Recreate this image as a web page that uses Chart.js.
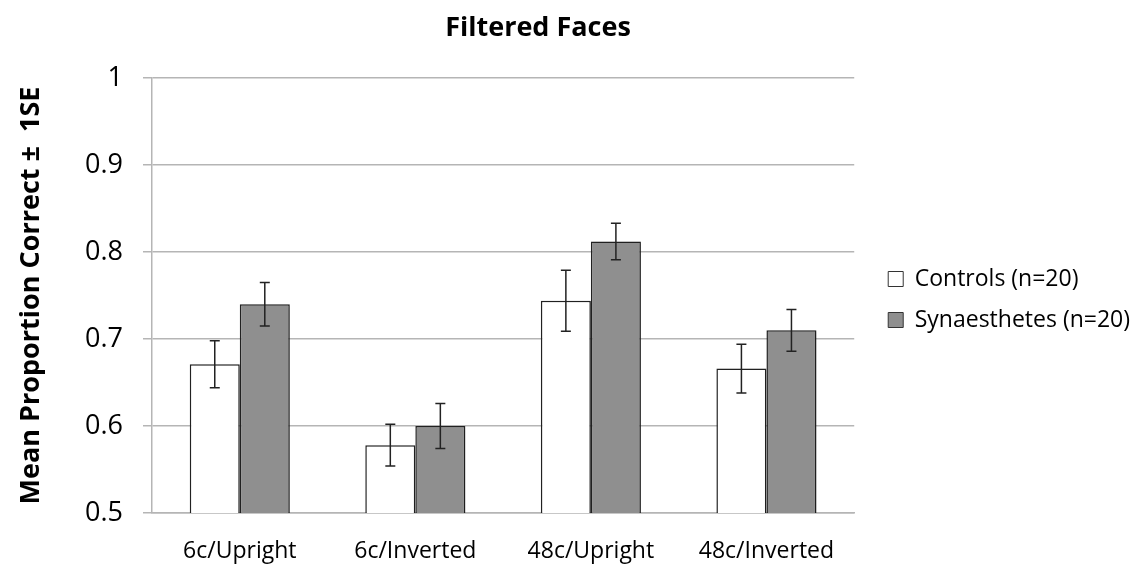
<!DOCTYPE html>
<html lang="en">
<head>
<meta charset="UTF-8">
<title>Filtered Faces</title>
<script src="https://cdn.jsdelivr.net/npm/chart.js"></script>
<style>
  html, body { margin: 0; padding: 0; background: #fff; }
  .wrap { width: 1136px; height: 566px; position: relative; }
</style>
</head>
<body>
<div class="wrap"><canvas id="facesChart"></canvas></div>
<script>
  const categories = ['6c/Upright', '6c/Inverted', '48c/Upright', '48c/Inverted'];
  const controls = [0.671, 0.578, 0.744, 0.666];
  const controlsSE = [0.027, 0.024, 0.035, 0.028];
  const synaesthetes = [0.740, 0.600, 0.812, 0.710];
  const synaesthetesSE = [0.025, 0.026, 0.021, 0.024];
  const seriesNames = ['Controls (n=20)', 'Synaesthetes (n=20)'];
  const yTicks = [0.5, 0.6, 0.7, 0.8, 0.9, 1];

  const FONT = "'Open Sans', 'DejaVu Sans', sans-serif";

  // soft bar shadow + error bars (+/- 1 SE) drawn through the y scale
  const errorBars = {
    id: 'errorBars',
    beforeDatasetsDraw(chart) {
      const ctx = chart.ctx;
      ctx.save();
      ctx.shadowColor = 'rgba(0,0,0,0.22)';
      ctx.shadowBlur = 3;
      ctx.shadowOffsetX = 1.5;
      ctx.shadowOffsetY = 1;
    },
    afterDatasetsDraw(chart) {
      const ctx = chart.ctx, y = chart.scales.y;
      ctx.restore();
      [controlsSE, synaesthetesSE].forEach((se, di) => {
        const meta = chart.getDatasetMeta(di);
        const vals = chart.data.datasets[di].data;
        meta.data.forEach((bar, i) => {
          const top = y.getPixelForValue(vals[i] + se[i]);
          const bot = y.getPixelForValue(vals[i] - se[i]);
          ctx.save();
          ctx.strokeStyle = '#222';
          ctx.lineWidth = 1.5;
          ctx.beginPath();
          ctx.moveTo(bar.x, top); ctx.lineTo(bar.x, bot);
          ctx.moveTo(bar.x - 5, top); ctx.lineTo(bar.x + 5, top);
          ctx.moveTo(bar.x - 5, bot); ctx.lineTo(bar.x + 5, bot);
          ctx.stroke();
          ctx.restore();
        });
      });
    }
  };

  // nudge the legend block a little right/down, as in the original
  const legendNudge = {
    id: 'legendNudge',
    afterLayout(chart) {
      const lg = chart.legend;
      lg.left += 16; lg.right += 16;
      lg.top += 4; lg.bottom += 4;
    }
  };

  // chart title, centred like the original
  const chartTitle = {
    id: 'chartTitle',
    afterDraw(chart) {
      const ctx = chart.ctx;
      ctx.save();
      ctx.font = "bold 27px " + FONT;
      ctx.fillStyle = '#000';
      ctx.textAlign = 'center';
      ctx.textBaseline = 'middle';
      ctx.fillText('Filtered Faces', 538, 28);
      ctx.restore();
    }
  };

  document.addEventListener('DOMContentLoaded', function() {
    const ctx = document.getElementById('facesChart').getContext('2d');
    new Chart(ctx, {
      type: 'bar',
      data: {
        labels: categories,
        datasets: [
          {
            label: seriesNames[0],
            data: controls,
            backgroundColor: '#ffffff',
            borderColor: '#222',
            borderWidth: 1.5,
            borderSkipped: false
          },
          {
            label: seriesNames[1],
            data: synaesthetes,
            backgroundColor: '#8f8f8f',
            borderColor: '#222',
            borderWidth: 1.5,
            borderSkipped: false
          }
        ]
      },
      options: {
        responsive: true,
        maintainAspectRatio: false,
        animation: false,
        categoryPercentage: 0.57,
        barPercentage: 1,
        layout: { padding: { top: 78, right: 12, left: 0, bottom: 0 } },
        plugins: {
          title: { display: false },
          tooltip: { enabled: false },
          legend: {
            position: 'right',
            align: 'center',
            fullSize: false,
            labels: {
              color: '#000',
              font: { family: FONT, size: 23 },
              boxWidth: 15,
              boxHeight: 15,
              padding: 18,
              generateLabels(chart) {
                return chart.data.datasets.map((ds, i) => ({
                  text: ds.label,
                  fillStyle: ds.backgroundColor,
                  strokeStyle: '#333',
                  lineWidth: 1,
                  datasetIndex: i
                }));
              }
            }
          }
        },
        scales: {
          x: {
            afterFit(scale) { scale.height = 53; },
            grid: { display: false, drawTicks: false },
            border: { display: true, color: '#b5b5b5', width: 1.5 },
            ticks: { color: '#000', font: { family: FONT, size: 23 }, padding: 25 }
          },
          y: {
            min: 0.5,
            max: 1,
            afterBuildTicks(scale) { scale.ticks = yTicks.map(v => ({ value: v })); },
            afterFit(scale) { scale.width = 152; },
            grid: { color: '#b5b5b5', lineWidth: 1.5, tickLength: 9 },
            border: { display: true, color: '#b5b5b5', width: 1.5 },
            ticks: {
              color: '#000',
              font: { family: FONT, size: 27 },
              padding: 20,
              callback: v => String(+Number(v).toFixed(1))
            },
            title: {
              display: true,
              text: 'Mean Proportion Correct \u00b1  1SE',
              color: '#000',
              font: { family: FONT, size: 27, weight: 'bold' },
              padding: { top: 15, bottom: 6 }
            }
          }
        }
      },
      plugins: [errorBars, legendNudge, chartTitle]
    });
  });
</script>
</body>
</html>
